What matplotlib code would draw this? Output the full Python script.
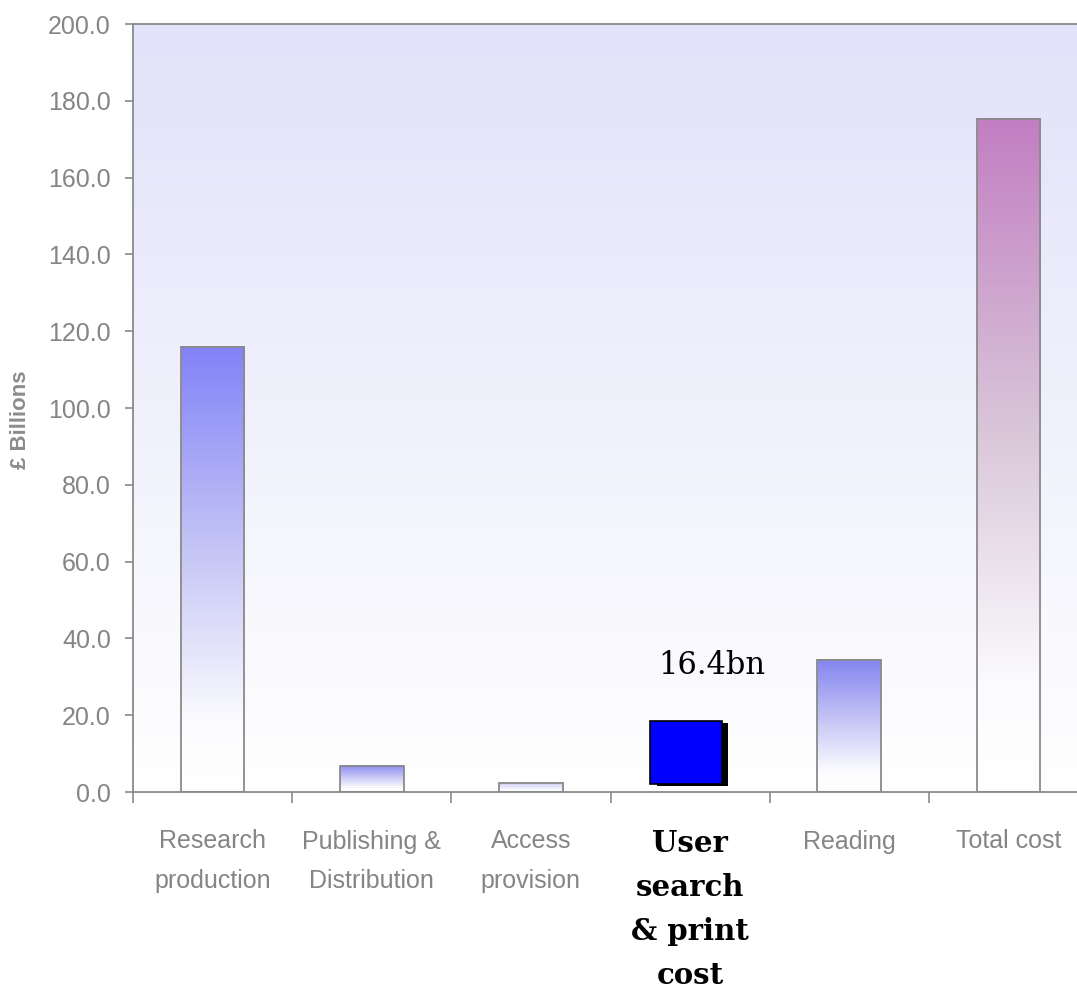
import numpy as np
import matplotlib.pyplot as plt
from matplotlib import patheffects
from matplotlib.colors import to_rgb, LinearSegmentedColormap

categories = ["Research\nproduction", "Publishing &\nDistribution", "Access\nprovision",
              "User\nsearch\n& print\ncost", "Reading", "Total cost"]
values = [116.0, 6.9, 2.4, 16.4, 34.4, 175.3]
top_colours = ["#8282f8", "#8c8cf0", "#c8c8f0", "#0000ff", "#8484f0", "#c27ec2"]
mid_colours = ["#c4c4f6", "#c8c8f6", "#e4e4f8", "#0000ff", "#c4c4f6", "#d8c4d8"]
highlight = 3          # the category drawn as a solid box with a callout
highlight_base = 2.0   # the box sits slightly above the axis

yticks = np.arange(0, 201, 20)

grey = "#8a8a8a"
label_grey = "#858585"
narrow = ["Liberation Sans Narrow", "Liberation Sans", "DejaVu Sans"]

fig = plt.figure(figsize=(10.77, 9.94), dpi=100)
ax = fig.add_axes([133 / 1077, 202 / 994, 955 / 1077, 768 / 994])

x = np.arange(len(categories))
width = 0.4

# background: lavender at the top fading to white at the axis
bg_top = np.array(to_rgb("#e2e2fa"))
t = np.linspace(0, 1, 256)[:, None, None]
bg = bg_top * (1 - t) + np.ones(3) * t
ax.imshow(bg, extent=(-0.5, 5.5, 0, 200), origin="upper", aspect="auto", zorder=0)

# gradient-filled bars, fading to white before reaching the axis
grad_vals = np.linspace(0, 1, 256)[:, None]
for i, v in enumerate(values):
    if i == highlight:
        continue
    cmap = LinearSegmentedColormap.from_list(
        f"bar{i}", [(0, top_colours[i]), (0.45, mid_colours[i]), (0.85, "#fcfcfe"), (1, "white")])
    ax.imshow(grad_vals, cmap=cmap, vmin=0, vmax=1,
              extent=(x[i] - width / 2, x[i] + width / 2, 0, v),
              origin="upper", aspect="auto", zorder=2)

plain = [i for i in x if i != highlight]
ax.bar(x[plain], [values[i] for i in plain], width=width, facecolor="none",
       edgecolor=grey, linewidth=1.3, zorder=3)

# highlighted solid box with a drop shadow
hb = ax.bar(x[highlight] - 0.025, values[highlight], width=0.45, bottom=highlight_base,
            facecolor=top_colours[highlight], edgecolor="black", linewidth=1.2, zorder=4)
for p in hb.patches:
    p.set_path_effects([patheffects.SimplePatchShadow(offset=(4.5, -1.5), shadow_rgbFace="black", alpha=1.0),
                        patheffects.Normal()])

ax.annotate(f"{values[highlight]:.1f}bn",
            xy=(x[highlight], highlight_base + values[highlight]),
            xytext=(16, 40), textcoords="offset points",
            ha="center", va="center", fontsize=22, family="DejaVu Serif", color="black")

ax.set_xlim(-0.5, 5.5)
ax.set_ylim(0, 200)

# y axis
ax.set_yticks(yticks)
ax.set_yticklabels([f"{v:.1f}" for v in yticks], family=narrow, fontsize=18, color=label_grey)
ax.tick_params(axis="y", direction="out", length=6, width=1.2, color=grey, pad=10)

# x axis: ticks at category boundaries, labels at centres
ax.set_xticks(np.arange(-0.5, 5.0, 1.0))
ax.set_xticklabels([])
ax.tick_params(axis="x", which="major", direction="out", length=8, width=1.2, color=grey)
ax.set_xticks(x, minor=True)
ax.set_xticklabels(categories, minor=True)
ax.tick_params(axis="x", which="minor", length=0, pad=27)
for i, lab in enumerate(ax.get_xticklabels(minor=True)):
    lab.set_verticalalignment("top")
    if i == highlight:
        lab.set_family("DejaVu Serif")
        lab.set_fontweight("bold")
        lab.set_fontsize(21)
        lab.set_color("black")
        lab.set_linespacing(1.65)
    else:
        lab.set_family(narrow)
        lab.set_fontsize(18)
        lab.set_color(label_grey)
        lab.set_linespacing(1.8)

for side in ["left", "bottom", "top"]:
    ax.spines[side].set_color(grey)
    ax.spines[side].set_linewidth(1.3)
ax.spines["right"].set_visible(False)

fig.text(21 / 1077, 1 - 420 / 994, "£ Billions", rotation=90, ha="center", va="center",
         fontsize=16, fontweight="bold", color="#8c8c8c", family="Liberation Sans")

fig.savefig("out.png", dpi=100)
